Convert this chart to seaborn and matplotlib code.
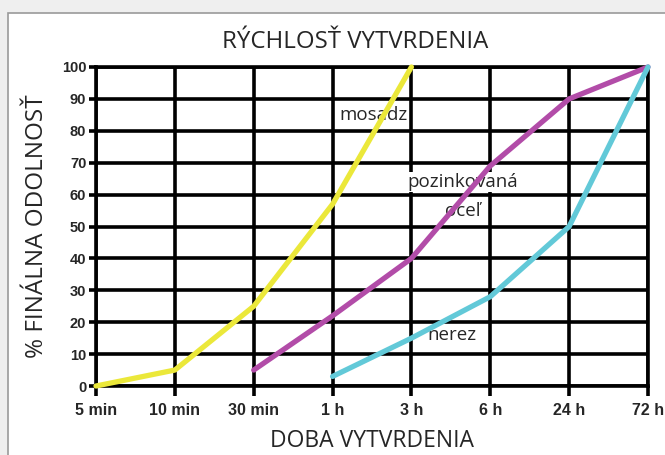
import pandas as pd
import seaborn as sns
import matplotlib.pyplot as plt
from matplotlib.patches import Rectangle

# data
times = ['5 min', '10 min', '30 min', '1 h', '3 h', '6 h', '24 h', '72 h']
brass_times = ['5 min', '10 min', '30 min', '1 h', '3 h']
brass_vals = [0, 5, 25, 57, 100]
galv_times = ['30 min', '1 h', '3 h', '6 h', '24 h', '72 h']
galv_vals = [5, 22, 40, 69, 90, 100]
steel_times = ['1 h', '3 h', '6 h', '24 h', '72 h']
steel_vals = [3, 15, 28, 50, 100]
y_ticks = [0, 10, 20, 30, 40, 50, 60, 70, 80, 90, 100]

rows = []
for name, ts, vs in [('mosadz', brass_times, brass_vals),
                     ('oceľ', galv_times, galv_vals),
                     ('nerez', steel_times, steel_vals)]:
    for t, v in zip(ts, vs):
        rows.append({'series': name, 'pos': times.index(t), 'value': v})
df = pd.DataFrame(rows)

sns.set_style('white')
plt.rcParams['font.family'] = ['Open Sans', 'DejaVu Sans']

fig = plt.figure(figsize=(6.65, 4.55), dpi=100)
fig.patch.set_facecolor('#efefef')
fig.patches.append(Rectangle((8 / 665, -0.05), 1.0, 1 - 13 / 455 + 0.05,
                             transform=fig.transFigure, facecolor='white',
                             edgecolor='#9a9a9a', linewidth=1.2, zorder=-5))

ax = fig.add_axes([96 / 665, 1 - 386 / 455, (648 - 96) / 665, (386 - 67) / 455])
ax.set_zorder(2)
ax.set_facecolor('white')

palette = {'mosadz': '#ebe83a', 'oceľ': '#b24ca8', 'nerez': '#62c9d8'}
sns.lineplot(data=df, x='pos', y='value', hue='series', palette=palette,
             linewidth=3.8, legend=False, ax=ax, zorder=3, clip_on=False)

narrow = ['Liberation Sans Narrow', 'Liberation Sans', 'DejaVu Sans']
ax.set_xlim(0, len(times) - 1)
ax.set_ylim(0, 100)
ax.set_xticks(range(len(times)))
ax.set_xticklabels(times, fontsize=11.5, fontweight='bold', family=narrow)
ax.set_yticks(y_ticks)
ax.set_yticklabels([str(v) for v in y_ticks], fontsize=10.5, fontweight='bold', family=narrow)
ax.grid(True, color='black', linewidth=2.6, zorder=1)
ax.set_axisbelow(True)
ax.tick_params(axis='x', bottom=True, direction='out', length=7, width=2.6,
               color='black', pad=5)
ax.tick_params(axis='y', left=True, direction='out', length=5, width=2.6,
               color='black', pad=2)
for s in ax.spines.values():
    s.set_color('black')
    s.set_linewidth(2.6)

ax.set_xlabel('DOBA VYTVRDENIA', fontsize=16.5, labelpad=8)
ax.set_ylabel('% FINÁLNA ODOLNOSŤ', fontsize=17.5, labelpad=9)
fig.text(355 / 665, 1 - 42 / 455, 'RÝCHLOSŤ VYTVRDENIA', fontsize=17.3,
         ha='center', va='center')

box = dict(facecolor='white', edgecolor='none', pad=1)
ax.text(3.09, 85, 'mosadz', fontsize=13.5, ha='left', va='center', bbox=box, zorder=2)
ax.text(4.65, 64, 'pozinkovaná', fontsize=13.5, ha='center', va='center', bbox=box, zorder=2)
ax.text(4.65, 55, 'oceľ', fontsize=13.5, ha='center', va='center', bbox=box, zorder=2)
ax.text(4.51, 16, 'nerez', fontsize=13.5, ha='center', va='center', bbox=box, zorder=2)

plt.savefig('out.png', dpi=100)
